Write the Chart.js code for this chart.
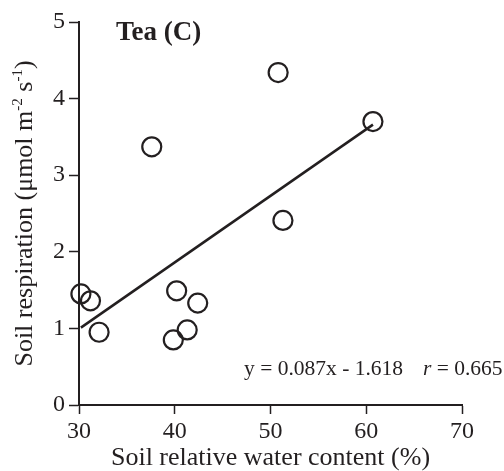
<!DOCTYPE html>
<html>
<head>
<meta charset="utf-8">
<script src="https://cdn.jsdelivr.net/npm/chart.js@4.4.0/dist/chart.umd.min.js"></script>
<style>
    html, body { margin: 0; padding: 0; background: #fff; }
</style>
</head>
<body>
<canvas id="scatterChart" width="504" height="471"></canvas>
<script>
// Soil relative water content (%) for each sample
const waterContent = [30.2, 31.2, 32.1, 37.6, 39.85, 40.2, 41.3, 42.4, 50.8, 51.3, 60.7];
// Soil respiration (umol m-2 s-1) for each sample
const respiration = [1.45, 1.36, 0.95, 3.37, 0.85, 1.49, 0.98, 1.33, 4.34, 2.41, 3.70];
// Ends of the fitted line as drawn in the figure
const fitX = [30.2, 60.7];
const fitY = [1.01, 3.66];
// Axis ticks
const xTicks = [30, 40, 50, 60, 70];
const yTicks = [0, 1, 2, 3, 4, 5];

const ink = '#231f20';
const serif = '"Liberation Serif", "Times New Roman", serif';

// Draws the panel label, the regression equation and the y axis title (with superscripts)
const textPlugin = {
    id: 'panelText',
    afterDraw(chart) {
        const ctx = chart.ctx;
        const area = chart.chartArea;
        ctx.save();
        ctx.fillStyle = ink;
        ctx.textBaseline = 'middle';
        ctx.textAlign = 'left';

        // Panel label
        ctx.font = 'bold 27px ' + serif;
        ctx.fillText('Tea (C)', 116, 33);

        // Equation
        ctx.font = '21.5px ' + serif;
        ctx.fillText('y = 0.087x - 1.618', 244, 369);
        ctx.font = 'italic 21.5px ' + serif;
        ctx.fillText('r', 423, 369);
        const rw = ctx.measureText('r').width;
        ctx.font = '21.5px ' + serif;
        ctx.fillText(' = 0.665', 423 + rw, 369);

        // Y axis title, rotated, with superscripts
        const parts = [
            { t: 'Soil respiration (\u03bcmol m', sup: false },
            { t: '-2', sup: true },
            { t: ' s', sup: false },
            { t: '-1', sup: true },
            { t: ')', sup: false }
        ];
        const mainFont = '26px ' + serif;
        const supFont = '15px ' + serif;
        let total = 0;
        parts.forEach(p => {
            ctx.font = p.sup ? supFont : mainFont;
            p.w = ctx.measureText(p.t).width;
            total += p.w;
        });
        ctx.translate(25, (area.top + area.bottom) / 2);
        ctx.rotate(-Math.PI / 2);
        let x = -total / 2;
        parts.forEach(p => {
            ctx.font = p.sup ? supFont : mainFont;
            ctx.fillText(p.t, x, p.sup ? -7 : 0);
            x += p.w;
        });
        ctx.restore();
    }
};

const ctx = document.getElementById('scatterChart').getContext('2d');
new Chart(ctx, {
    type: 'scatter',
    data: {
        datasets: [
            {
                type: 'line',
                label: 'Fit',
                data: fitX.map((x, i) => ({ x: x, y: fitY[i] })),
                borderColor: ink,
                borderWidth: 2.5,
                pointRadius: 0,
                fill: false
            },
            {
                label: 'Tea (C)',
                data: waterContent.map((x, i) => ({ x: x, y: respiration[i] })),
                pointStyle: 'circle',
                pointRadius: 9.5,
                borderWidth: 2.2,
                borderColor: ink,
                backgroundColor: 'rgba(255,255,255,0)',
                clip: false
            }
        ]
    },
    options: {
        responsive: false,
        animation: false,
        layout: {
            padding: { top: 22, right: 42, left: 0, bottom: 0 }
        },
        plugins: {
            legend: { display: false },
            tooltip: { enabled: false }
        },
        scales: {
            x: {
                type: 'linear',
                min: 30,
                max: 70,
                afterBuildTicks: scale => { scale.ticks = xTicks.map(v => ({ value: v })); },
                afterFit: scale => { scale.height = 66; },
                grid: {
                    drawOnChartArea: false,
                    tickLength: 9,
                    tickColor: ink,
                    tickWidth: 1.5
                },
                border: { color: ink, width: 2 },
                ticks: {
                    color: ink,
                    font: { family: serif, size: 24 },
                    padding: 3,
                    maxRotation: 0
                },
                title: {
                    display: true,
                    text: 'Soil relative water content (%)',
                    color: ink,
                    font: { family: serif, size: 26, lineHeight: 1 },
                    padding: { top: 0, bottom: 0 }
                }
            },
            y: {
                min: 0,
                max: 5,
                afterBuildTicks: scale => { scale.ticks = yTicks.map(v => ({ value: v })); },
                afterFit: scale => { scale.width = 79; },
                grid: {
                    drawOnChartArea: false,
                    tickLength: 10,
                    tickColor: ink,
                    tickWidth: 1.5
                },
                border: { color: ink, width: 2 },
                ticks: {
                    color: ink,
                    font: { family: serif, size: 24 },
                    padding: 4
                }
            }
        }
    },
    plugins: [textPlugin]
});
</script>
</body>
</html>
